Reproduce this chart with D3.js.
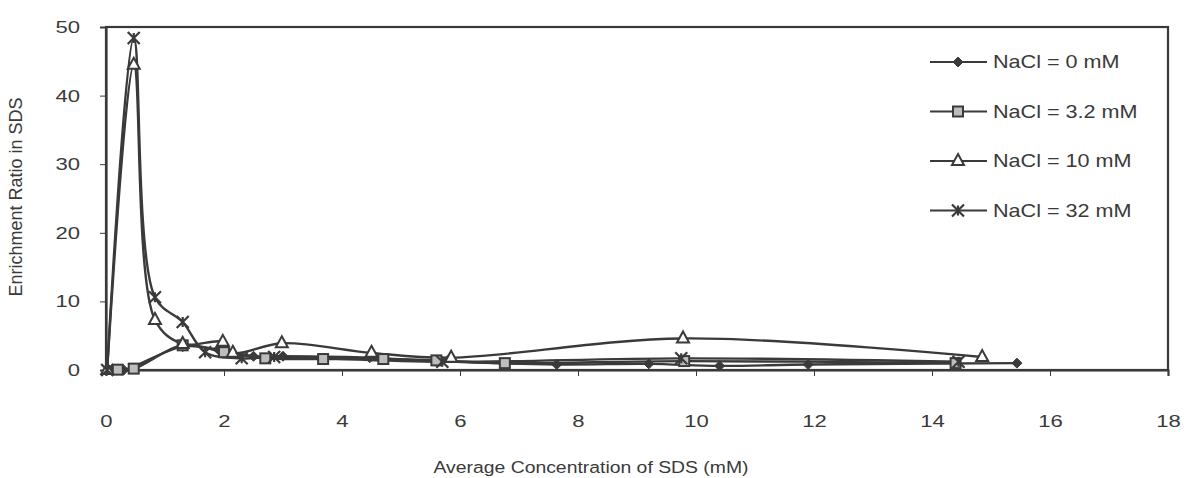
<!DOCTYPE html>
<html><head><meta charset="utf-8">
<script src="https://cdn.jsdelivr.net/npm/d3@7"></script>
<style>body{margin:0;background:#fff;}svg{display:block;}text{font-family:"Liberation Sans",Arial,sans-serif;fill:#3a3a3a;}</style>
</head><body>
<svg id="c" width="1184" height="478"></svg>
<script>
const seriesNames = ["NaCl = 0 mM","NaCl = 3.2 mM","NaCl = 10 mM","NaCl = 32 mM"];
const markers = ["diamond","square","triangle","star"];
const xTicks = [0,2,4,6,8,10,12,14,16,18];
const yTicks = [0,10,20,30,40,50];
const s0x = [0.05,0.3,1.3,1.9,2.5,3.0,4.47,5.6,7.64,9.2,10.4,11.9,15.44];
const s0y = [0,0,3.4,3.0,2.0,2.0,1.8,1.3,0.8,0.9,0.6,0.8,1.0];
const s1x = [0.2,0.47,1.3,2.0,2.7,3.68,4.7,5.6,6.76,9.8,14.4];
const s1y = [0.05,0.2,3.6,2.6,1.7,1.6,1.6,1.4,1.0,1.3,1.0];
const s2x = [0.02,0.47,0.83,1.3,1.98,2.15,2.98,4.5,5.85,9.78,14.85];
const s2y = [0,44.5,7.3,3.8,4.1,2.5,3.9,2.5,1.8,4.6,1.9];
const s3x = [0.02,0.47,0.83,1.3,1.68,2.3,2.85,5.7,9.75,14.45];
const s3y = [0,48.4,10.6,7.0,2.6,1.7,1.9,1.2,1.7,1.2];
const allX = [s0x,s1x,s2x,s3x], allY = [s0y,s1y,s2y,s3y];

const ink = "#3a3a3a";
const svg = d3.select("#c");
const L=106,R=1168,T=27,B=370;
const x = d3.scaleLinear().domain([0,18]).range([L,R]);
const y = d3.scaleLinear().domain([0,50]).range([B,T]);

svg.append("rect").attr("x",L).attr("y",T).attr("width",R-L).attr("height",B-T)
  .attr("fill","none").attr("stroke",ink).attr("stroke-width",2.2);

const sx = 1.3;
const gx = svg.append("g").attr("transform",`translate(0,${B})`)
  .call(d3.axisBottom(x).tickValues(xTicks).tickSize(6).tickPadding(39).tickFormat(d3.format("d")));
const gy = svg.append("g").attr("transform",`translate(${L},0)`)
  .call(d3.axisLeft(y).tickValues(yTicks).tickSize(6).tickPadding(26).tickFormat(d3.format("d")));
[gx,gy].forEach(g=>{
  g.attr("font-size",17).attr("font-family",'"Liberation Sans",Arial,sans-serif');
  g.select(".domain").attr("stroke",ink).attr("stroke-width",2.2);
  g.selectAll(".tick line").attr("stroke",ink).attr("stroke-width",1);
  g.selectAll(".tick text").attr("fill",ink).style("font-size","17px");
});
gx.selectAll(".tick text").attr("transform",`scale(${sx},1)`);
gy.selectAll(".tick text").attr("x",-26/sx).attr("transform",`scale(${sx},1)`);

const line = d3.line().x(d=>x(d[0])).y(d=>y(d[1])).curve(d3.curveCatmullRom.alpha(0.5));

function drawMarker(g, type, cx, cy){
  if(type==="diamond"){
    g.append("path").attr("d",`M${cx},${cy-5}L${cx+5},${cy}L${cx},${cy+5}L${cx-5},${cy}Z`)
      .attr("fill",ink).attr("stroke",ink).attr("stroke-width",1);
  } else if(type==="square"){
    g.append("rect").attr("x",cx-5).attr("y",cy-5).attr("width",10).attr("height",10)
      .attr("fill","#bdbdbd").attr("stroke",ink).attr("stroke-width",2);
  } else if(type==="triangle"){
    g.append("path").attr("d",`M${cx},${cy-7}L${cx+6},${cy+4}L${cx-6},${cy+4}Z`)
      .attr("fill","#fff").attr("stroke",ink).attr("stroke-width",2);
  } else {
    g.append("path").attr("d",`M${cx-6},${cy-6}L${cx+6},${cy+6}M${cx+6},${cy-6}L${cx-6},${cy+6}M${cx},${cy-5}L${cx},${cy+5}`)
      .attr("fill","none").attr("stroke",ink).attr("stroke-width",2.2);
  }
}

allX.forEach((xs,i)=>{
  const pts = xs.map((v,j)=>[v,allY[i][j]]);
  svg.append("path").datum(pts).attr("d",line).attr("fill","none").attr("stroke",ink).attr("stroke-width",2.4);
});
allX.forEach((xs,i)=>{
  const g = svg.append("g");
  xs.forEach((v,j)=>drawMarker(g, markers[i], x(v), y(allY[i][j])));
});

// legend
const lg = svg.append("g");
seriesNames.forEach((n,i)=>{
  const yy = 62 + i*49.5;
  lg.append("line").attr("x1",930).attr("x2",987).attr("y1",yy).attr("y2",yy).attr("stroke",ink).attr("stroke-width",2);
  drawMarker(lg, markers[i], 958, yy);
  lg.append("text").attr("transform",`translate(993,${yy+6}) scale(1.2,1)`).style("font-size","18px").text(n);
});

svg.append("text").attr("transform","translate(591,473) scale(1.14,1)").attr("text-anchor","middle").style("font-size","17px")
  .text("Average Concentration of SDS (mM)");
svg.append("text").attr("transform","translate(22,197) rotate(-90)").attr("text-anchor","middle").style("font-size","18px")
  .text("Enrichment Ratio in SDS");
</script>
</body></html>
